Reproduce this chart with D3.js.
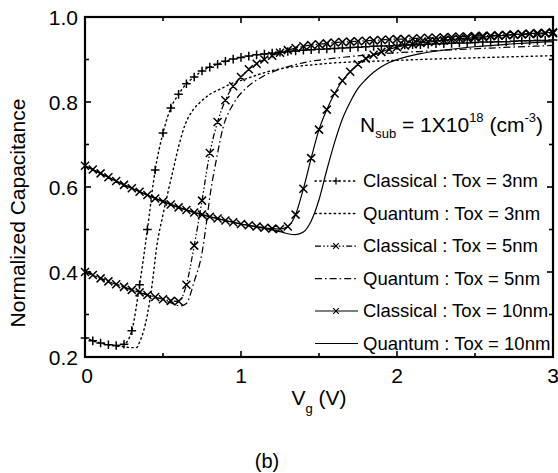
<!DOCTYPE html>
<html>
<head>
<meta charset="utf-8">
<script src="https://cdn.jsdelivr.net/npm/d3@7"></script>
<style>
  html, body { margin: 0; padding: 0; background: #fff; }
  svg { display: block; font-family: "Liberation Sans", Arial, sans-serif; }
</style>
</head>
<body>
<svg id="chart" width="558" height="473"></svg>
<script>
// Gate voltage grid of the classical (marker) curves, V
const vgClassical = [0.00,0.05,0.10,0.15,0.20,0.25,0.30,0.35,0.40,0.45,0.50,0.55,0.60,0.65,0.70,0.75,0.80,0.85,0.90,0.95,
  1.00,1.05,1.10,1.15,1.20,1.25,1.30,1.35,1.40,1.45,1.50,1.55,1.60,1.65,1.70,1.75,1.80,1.85,1.90,1.95,
  2.00,2.05,2.10,2.15,2.20,2.25,2.30,2.35,2.40,2.45,2.50,2.55,2.60,2.65,2.70,2.75,2.80,2.85,2.90,2.95,3.00];

// Classical C/Cox
const classical3nm = [0.245,0.238,0.233,0.229,0.227,0.230,0.262,0.370,0.500,0.640,0.727,0.786,0.818,0.843,0.859,0.873,0.882,0.889,0.896,0.901,
  0.905,0.908,0.911,0.913,0.915,0.917,0.919,0.920,0.922,0.923,0.924,0.925,0.926,0.927,0.928,0.929,0.930,0.931,0.932,0.932,
  0.933,0.934,0.935,0.935,0.936,0.937,0.937,0.938,0.939,0.939,0.940,0.941,0.941,0.942,0.942,0.943,0.944,0.944,0.945,0.945,0.946];
const classical5nm = [0.400,0.393,0.385,0.378,0.371,0.365,0.358,0.352,0.346,0.341,0.336,0.332,0.331,0.370,0.462,0.568,0.680,0.753,0.804,0.837,
  0.859,0.877,0.890,0.900,0.909,0.916,0.922,0.927,0.931,0.934,0.936,0.938,0.940,0.941,0.942,0.943,0.944,0.945,0.946,0.947,
  0.948,0.948,0.949,0.950,0.951,0.951,0.952,0.953,0.954,0.954,0.955,0.956,0.956,0.957,0.958,0.958,0.959,0.960,0.960,0.961,0.962];
const classical10nm = [0.650,0.641,0.632,0.623,0.614,0.605,0.597,0.589,0.581,0.573,0.566,0.559,0.552,0.546,0.540,0.535,0.530,0.526,0.521,0.517,
  0.513,0.510,0.507,0.504,0.502,0.501,0.507,0.535,0.596,0.668,0.735,0.782,0.820,0.850,0.871,0.889,0.902,0.911,0.918,0.924,
  0.929,0.933,0.936,0.939,0.941,0.943,0.945,0.947,0.949,0.950,0.952,0.953,0.955,0.956,0.957,0.959,0.960,0.961,0.962,0.963,0.964];

// Quantum-corrected C/Cox (plain lines)
const vgQuantum3nm = [0,0.10,0.20,0.25,0.30,0.33,0.35,0.40,0.43,0.46,0.50,0.53,0.565,0.60,0.64,0.69,0.74,0.80,0.87,0.93,1.01,1.20,1.50,2.00,2.50,3.00];
const quantum3nm   = [0.245,0.233,0.226,0.224,0.222,0.222,0.235,0.300,0.370,0.460,0.535,0.585,0.640,0.695,0.745,0.780,0.800,0.818,0.831,0.842,0.852,0.874,0.889,0.898,0.904,0.909];
const vgQuantum5nm = [0,0.10,0.20,0.30,0.40,0.50,0.56,0.61,0.65,0.70,0.75,0.78,0.80,0.845,0.885,0.95,1.04,1.14,1.29,1.42,1.60,1.85,2.20,2.60,3.00];
const quantum5nm   = [0.400,0.385,0.371,0.358,0.346,0.335,0.326,0.320,0.326,0.378,0.445,0.520,0.576,0.670,0.740,0.795,0.835,0.860,0.882,0.894,0.903,0.912,0.920,0.927,0.933];
const vgQuantum10nm = [0,0.20,0.40,0.60,0.80,1.00,1.10,1.20,1.25,1.30,1.35,1.40,1.45,1.50,1.55,1.60,1.65,1.70,1.75,1.80,1.85,1.90,1.95,2.00,2.15,2.30,2.50,2.75,3.00];
const quantum10nm   = [0.650,0.614,0.581,0.552,0.530,0.513,0.506,0.499,0.495,0.490,0.488,0.494,0.520,0.570,0.640,0.705,0.760,0.800,0.832,0.853,0.870,0.883,0.893,0.900,0.914,0.922,0.930,0.937,0.942];

// Axis ticks
const xMajorTicks = [0, 1, 2, 3];
const xMinorTicks = [0.5, 1.5, 2.5];
const yMajorTicks = [0.2, 0.4, 0.6, 0.8, 1.0];
const yMinorTicks = [0.3, 0.5, 0.7, 0.9];

// Legend entries
const legendLabels = [
  "Classical : Tox = 3nm",
  "Quantum : Tox = 3nm",
  "Classical : Tox = 5nm",
  "Quantum : Tox = 5nm",
  "Classical : Tox = 10nm",
  "Quantum : Tox = 10nm"
];

(function draw() {
  const svg = d3.select("#chart");
  const pLeft = 85, pRight = 553, pTop = 17, pBottom = 357;
  const x = d3.scaleLinear().domain([0, 3]).range([pLeft, pRight]);
  const y = d3.scaleLinear().domain([0.2, 1.0]).range([pBottom, pTop]);

  const styles = {
    dotted:   { dash: "1.4,3.4", width: 1.4 },
    dashDot2: { dash: "6,2.2,1.5,2.2,1.5,2.2", width: 1.25 },
    dashDot:  { dash: "7,3,1.6,3", width: 1.25 },
    solid:    { dash: null, width: 1.2 }
  };

  const series = [
    { xs: vgClassical, ys: classical3nm, style: styles.dotted, marker: "plus" },
    { xs: vgQuantum3nm, ys: quantum3nm, style: styles.dotted, marker: null },
    { xs: vgClassical, ys: classical5nm, style: styles.dashDot2, marker: "cross" },
    { xs: vgQuantum5nm, ys: quantum5nm, style: styles.dashDot, marker: null },
    { xs: vgClassical, ys: classical10nm, style: styles.solid, marker: "cross" },
    { xs: vgQuantum10nm, ys: quantum10nm, style: styles.solid, marker: null }
  ];

  const line = d3.line()
    .x(d => x(d[0]))
    .y(d => y(d[1]))
    .curve(d3.curveMonotoneX);

  const clipId = "plotClip";
  svg.append("defs").append("clipPath").attr("id", clipId)
    .append("rect").attr("x", pLeft).attr("y", pTop)
    .attr("width", pRight - pLeft).attr("height", pBottom - pTop);

  const plot = svg.append("g");

  function markerPath(type, cx, cy, r) {
    if (type === "plus") {
      return `M${cx - r},${cy}H${cx + r}M${cx},${cy - r}V${cy + r}`;
    }
    return `M${cx - r},${cy - r}L${cx + r},${cy + r}M${cx - r},${cy + r}L${cx + r},${cy - r}`;
  }

  series.forEach(s => {
    const pts = s.xs.map((v, i) => [v, s.ys[i]]);
    plot.append("path")
      .attr("clip-path", `url(#${clipId})`)
      .attr("d", line(pts))
      .attr("fill", "none")
      .attr("stroke", "#000")
      .attr("stroke-width", s.style.width)
      .attr("stroke-dasharray", s.style.dash)
      .attr("stroke-linecap", s.style === styles.dotted ? "round" : "butt");
    if (s.marker) {
      const r = s.marker === "plus" ? 4.3 : 4;
      plot.append("path")
        .attr("d", pts.map(p => markerPath(s.marker, x(p[0]), y(p[1]), r)).join(""))
        .attr("fill", "none")
        .attr("stroke", "#000")
        .attr("stroke-width", 1.5);
    }
  });

  // Frame and inward ticks on all four sides
  const axes = svg.append("g").attr("stroke", "#000");
  axes.append("rect")
    .attr("x", pLeft).attr("y", pTop)
    .attr("width", pRight - pLeft).attr("height", pBottom - pTop)
    .attr("fill", "none").attr("stroke-width", 2.2);

  function xTicks(vals, len) {
    vals.forEach(v => {
      axes.append("line").attr("x1", x(v)).attr("x2", x(v)).attr("y1", pBottom).attr("y2", pBottom - len).attr("stroke-width", 1.6);
      axes.append("line").attr("x1", x(v)).attr("x2", x(v)).attr("y1", pTop).attr("y2", pTop + len).attr("stroke-width", 1.6);
    });
  }
  function yTicks(vals, len) {
    vals.forEach(v => {
      axes.append("line").attr("x1", pLeft).attr("x2", pLeft + len).attr("y1", y(v)).attr("y2", y(v)).attr("stroke-width", 1.6);
      axes.append("line").attr("x1", pRight).attr("x2", pRight - len).attr("y1", y(v)).attr("y2", y(v)).attr("stroke-width", 1.6);
    });
  }
  xTicks(xMajorTicks, 6);
  xTicks(xMinorTicks, 4);
  yTicks(yMajorTicks, 6);
  yTicks(yMinorTicks, 4);

  // Tick labels
  const labels = svg.append("g").attr("fill", "#000").style("font-size", "21px");
  xMajorTicks.forEach(v => {
    labels.append("text").attr("x", x(v) + (v === 0 ? 2 : 0)).attr("y", 383)
      .attr("text-anchor", "middle").text(d3.format("d")(v));
  });
  yMajorTicks.forEach(v => {
    labels.append("text").attr("x", 78).attr("y", y(v) + 7.5)
      .attr("text-anchor", "end").text(d3.format(".1f")(v));
  });

  // Axis titles
  const xTitle = svg.append("text").attr("x", x(1.5)).attr("y", 405)
    .attr("text-anchor", "middle").style("font-size", "21px");
  xTitle.append("tspan").text("V");
  xTitle.append("tspan").attr("dy", 8).style("font-size", "13px").text("g");
  xTitle.append("tspan").attr("dy", -8).text(" (V)");

  svg.append("text")
    .attr("transform", "translate(25,213) rotate(-90)")
    .attr("text-anchor", "middle")
    .style("font-size", "21px")
    .text("Normalized Capacitance");

  svg.append("text").attr("x", 267).attr("y", 468)
    .attr("text-anchor", "middle").style("font-size", "20px").text("(b)");

  // Doping annotation
  const nsub = svg.append("text").attr("x", 360).attr("y", 132).style("font-size", "21px");
  nsub.append("tspan").text("N");
  nsub.append("tspan").attr("dy", 6).style("font-size", "13px").text("sub");
  nsub.append("tspan").attr("dy", -6).text(" = 1X10");
  nsub.append("tspan").attr("dy", -10).style("font-size", "13px").text("18");
  nsub.append("tspan").attr("dy", 10).text(" (cm");
  nsub.append("tspan").attr("dy", -10).style("font-size", "13px").text("-3");
  nsub.append("tspan").attr("dy", 10).text(")");

  // Legend
  const legend = svg.append("g");
  const rowY = [187, 219.5, 252, 284.5, 317, 349.5];
  legendLabels.forEach((lab, i) => {
    const s = series[i];
    const ly = rowY[i] - 6;
    legend.append("line")
      .attr("x1", 315).attr("x2", 358).attr("y1", ly).attr("y2", ly)
      .attr("stroke", "#000")
      .attr("stroke-width", s.style.width)
      .attr("stroke-dasharray", s.style.dash)
      .attr("stroke-linecap", s.style === styles.dotted ? "round" : "butt");
    if (s.marker) {
      legend.append("path")
        .attr("d", markerPath(s.marker, 336, ly, s.marker === "plus" ? 3.5 : 2.8))
        .attr("fill", "none").attr("stroke", "#000").attr("stroke-width", 1.2);
    }
    legend.append("text").attr("x", 363).attr("y", rowY[i])
      .style("font-size", "18.5px").text(lab);
  });
})();
</script>
</body>
</html>
